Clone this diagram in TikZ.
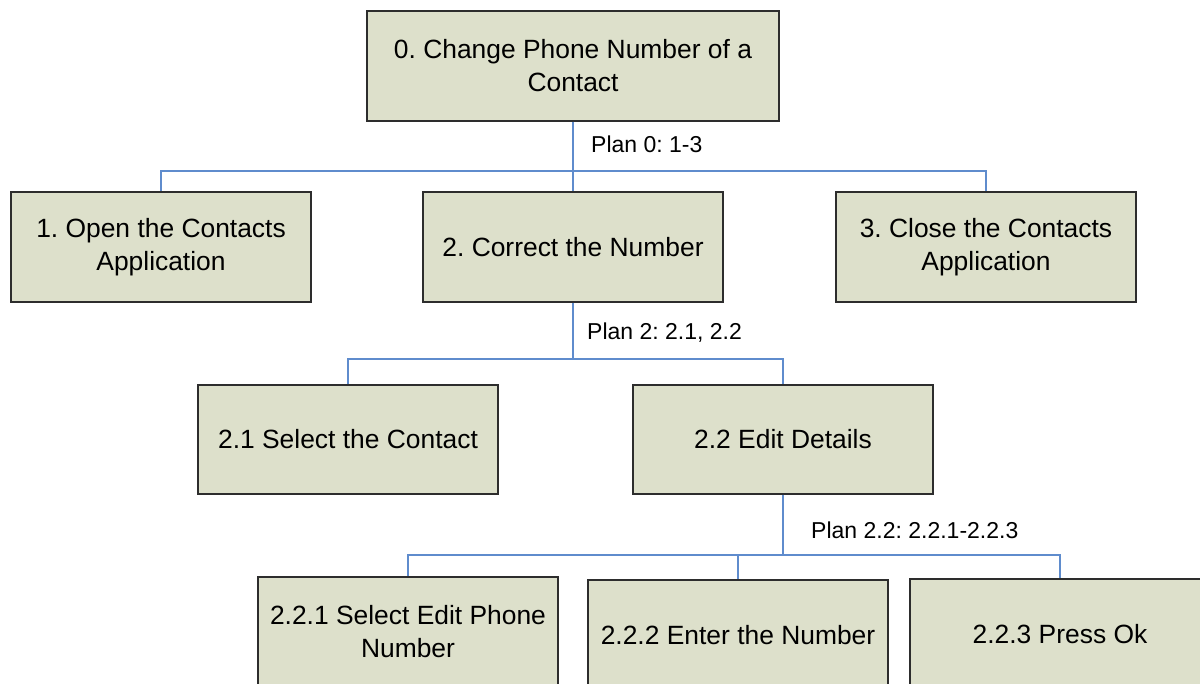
\documentclass[tikz,border=0pt]{standalone}
\usepackage{fontspec}
\setmainfont{Liberation Sans}
\frenchspacing
\definecolor{boxfill}{RGB}{221,224,203}
\definecolor{boxline}{RGB}{45,45,45}
\definecolor{connblue}{RGB}{95,140,205}
\begin{document}
\begin{tikzpicture}[x=1pt,y=-1pt,
  task/.style={draw=boxline, fill=boxfill, line width=1.1pt, rectangle,
    minimum width=300pt, minimum height=110pt, inner sep=0pt, align=center,
    font=\fontsize{26.4}{33}\selectfont},
  conn/.style={draw=connblue, line width=1.1pt},
  plan/.style={anchor=base west, inner sep=0pt, font=\fontsize{23}{28}\selectfont}]
\useasboundingbox (0,0) rectangle (1200,684);
\fill[white] (0,0) rectangle (1200,684);
\clip (0,0) rectangle (1200,684);

\node[task, minimum width=412pt] (n0) at (573,66) {0. Change Phone Number of a\\Contact};
\node[task] (n1) at (161,247) {1. Open the Contacts\\Application};
\node[task] (n2) at (573,247) {2. Correct the Number};
\node[task] (n3) at (986,247) {3. Close the Contacts\\Application};
\node[task, minimum height=109pt] (n21) at (348,439.5) {2.1 Select the Contact};
\node[task, minimum height=109pt] (n22) at (783,439.5) {2.2 Edit Details};
\node[task] (n221) at (408,632) {2.2.1 Select Edit Phone\\Number};
\node[task] (n222) at (738,635) {2.2.2 Enter the Number};
\node[task] (n223) at (1060,634) {2.2.3 Press Ok};

\coordinate (j0) at (573,171);
\coordinate (j2) at (573,359);
\coordinate (j22) at (783,555);

\draw[conn] (n0.south) -- (j0);
\draw[conn] (j0) -| (n1.north);
\draw[conn] (j0) -- (n2.north);
\draw[conn] (j0) -| (n3.north);

\draw[conn] (n2.south) -- (j2);
\draw[conn] (j2) -| (n21.north);
\draw[conn] (j2) -| (n22.north);

\draw[conn] (n22.south) -- (j22);
\draw[conn] (j22) -| (n221.north);
\draw[conn] (j22) -| (n222.north);
\draw[conn] (j22) -| (n223.north);

\node[plan] (p0) at (591,153) {Plan 0: 1-3};
\node[plan] (p2) at (587,340) {Plan 2: 2.1, 2.2};
\node[plan] (p22) at (811,538) {Plan 2.2: 2.2.1-2.2.3};
\end{tikzpicture}
\end{document}
